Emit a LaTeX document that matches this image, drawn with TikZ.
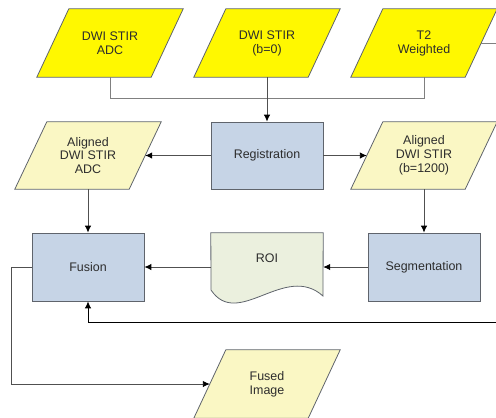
\documentclass[tikz,border=0pt]{standalone}
\usepackage{fontspec}
\setmainfont{Liberation Sans}
\usetikzlibrary{arrows.meta,backgrounds}
\definecolor{yfill}{RGB}{255,248,0}
\definecolor{lyfill}{RGB}{250,247,196}
\definecolor{pfill}{RGB}{198,212,230}
\definecolor{dfill}{RGB}{235,240,222}
\definecolor{bline}{RGB}{95,100,108}
\definecolor{cline}{RGB}{80,80,80}
\definecolor{tcol}{RGB}{45,45,45}
\newcommand\diafont{\fontsize{12.5}{14}\selectfont}
\tikzset{
  para/.style={minimum width=114bp, minimum height=68bp, inner sep=0pt, align=center, font=\diafont, text=tcol},
  procbox/.style={draw=bline, fill=pfill, line width=0.8bp, minimum width=112bp, minimum height=67bp, inner sep=0pt, align=center, font=\diafont, text=tcol},
  conn/.style={draw=cline, line width=0.9bp},
  arr/.style={conn, -{Latex[length=7bp,width=6.5bp,color=black]}},
}
\newcommand\parashape[2]{%
  \path[draw=bline, line width=0.8bp, fill=#2]
    ([xshift=16bp]#1.north west) -- ([xshift=16bp]#1.north east) --
    ([xshift=-16bp]#1.south east) -- ([xshift=-16bp]#1.south west) -- cycle;}
\begin{document}
\begin{tikzpicture}[x=1bp, y=-1bp]
\useasboundingbox (0,0) rectangle (496,417);
% top row
\node[para] (p1) at (110,43) {DWI STIR\\ADC};
\node[para] (p2) at (267,43) {DWI STIR\\(b=0)};
\node[para] (p3) at (424,43) {T2\\Weighted};
% middle row
\node[para, minimum height=67bp] (al1) at (88,155.5) {Aligned\\DWI STIR\\ADC};
\node[procbox] (reg) at (267,155.5) {Registration};
\node[para, minimum height=67bp] (al2) at (424,155.5) {Aligned\\DWI STIR\\(b=1200)};
% lower row
\node[procbox, minimum height=68bp] (fus) at (88,267) {Fusion};
\node[minimum width=112bp, minimum height=68bp, inner sep=0pt] (roi) at (267,267) {};
\node[font=\diafont, text=tcol, inner sep=0pt] (roitext) at (267,258) {ROI};
\node[procbox, minimum height=68bp] (seg) at (424,267) {Segmentation};
% output
\node[para] (fused) at (267,384) {Fused\\Image};
% background shapes
\begin{pgfonlayer}{background}
\parashape{p1}{yfill}
\parashape{p2}{yfill}
\parashape{p3}{yfill}
\parashape{al1}{lyfill}
\parashape{al2}{lyfill}
\parashape{fused}{lyfill}
\path[draw=bline, line width=0.8bp, fill=dfill]
  (roi.north west) -- (roi.north east) -- (323,296)
  .. controls (285,262) and (238,330) .. (211,290) -- cycle;
\end{pgfonlayer}
% edge coordinates
\coordinate (jn) at (110,98);
\coordinate (lc) at (11,267);
\coordinate (re1) at (496,43);
\coordinate (re2) at (496,322);
% connectors
\draw[conn, draw=gray] (p1.south) -- (jn) -| (p3.south);
\draw[arr] (p2.south) -- (reg.north);
\draw[arr] (reg.west) -- (al1.east);
\draw[arr] (reg.east) -- (al2.west);
\draw[arr] (al1.south) -- (fus.north);
\draw[arr] (al2.south) -- (seg.north);
\draw[arr] (seg.west) -- (roi.east);
\draw[arr] (roi.west) -- (fus.east);
\draw[arr] (fus.west) -- (lc) |- (fused.west);
\draw[conn, draw=gray] (p3.east) -- (re1);
\draw[arr, draw=black] (re2) -- (re2 -| fus.south) -- (fus.south);
\end{tikzpicture}
\end{document}
